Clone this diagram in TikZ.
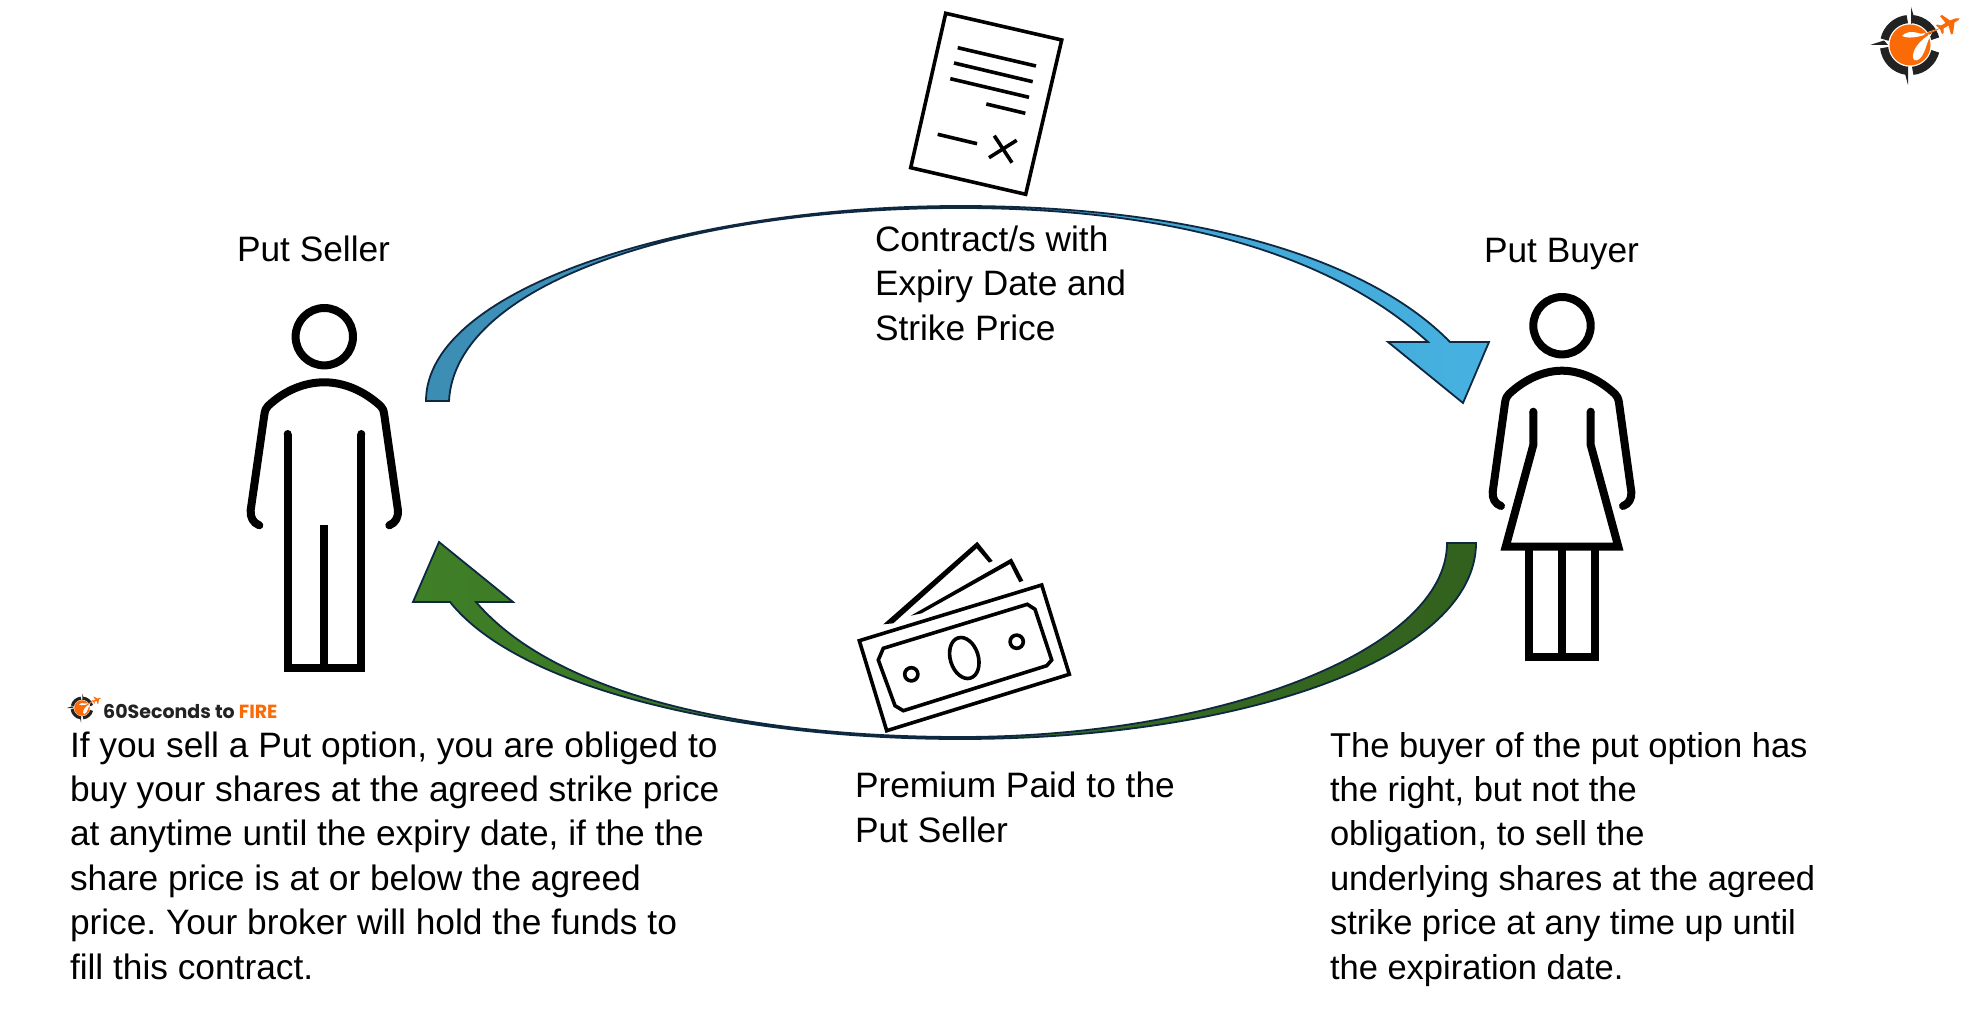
\documentclass[tikz,border=0pt]{standalone}
\usepackage{fontspec}
\setmainfont{Liberation Sans}
\newfontfamily\logofont{Poppins}
\usetikzlibrary{calc}
\frenchspacing
\definecolor{edgeblue}{HTML}{0E2841}
\definecolor{logoorange}{HTML}{FA6A06}
\definecolor{logodark}{HTML}{222222}
\definecolor{bluea}{HTML}{3C8DB4}
\definecolor{blueb}{HTML}{46B1E1}
\definecolor{greena}{HTML}{3F7F27}
\definecolor{greenb}{HTML}{32611D}
\tikzset{
  figure/.style={draw=black,line width=8pt,line cap=round,line join=round,fill=none},
  figsharp/.style={draw=black,line width=8pt,line cap=butt,line join=miter,miter limit=10,fill=none},
  thin ink/.style={draw=black,line width=3.6pt,line cap=butt,line join=miter},
  bigarrow/.style={draw=edgeblue,line width=1.8pt,line join=miter},
  txt/.style={inner sep=0pt,outer sep=0pt,anchor=base west,align=left,font=\fontsize{35.3}{44.4}\selectfont,text=black},
  txtr/.style={inner sep=0pt,outer sep=0pt,anchor=base west,align=left,font=\fontsize{34.5}{44.4}\selectfont,text=black},
  lbl/.style={inner sep=0pt,outer sep=0pt,anchor=base west,font=\fontsize{35.3}{44.4}\selectfont,text=black}
}
\newcommand{\logomark}[3]{%
\begin{scope}[shift={(#1,#2)},scale=#3]
  \foreach \a/\b in {96/168,14/84,186/262,276/346}{
    \draw[logodark,line width=8.2pt*#3] (\a:26pt) arc[start angle=\a,end angle=\b,radius=26pt];
  }
  \fill[logodark] (-40,0) -- (-26,-4.5) -- (-22,0) -- cycle;
  \fill[logodark] (1,-38) -- (5,-25) -- (1,-21) -- cycle;
  \fill[logodark] (-2,40) -- (-6,25) -- (-2,21) -- cycle;
  \fill[logoorange] (0,0) circle[radius=20.5pt];
  \fill[white] (30,-17) .. controls (16,-9) and (0,-5) .. (-8,-9) .. controls (-5,-13) and (2,-14) .. (8,-12) .. controls (10,-11) and (13,-11) .. (15,-12) -- cycle;
  \fill[white] (22,-12) .. controls (8,-4) and (2,6) .. (3,13) .. controls (4,17) and (9,16) .. (12,11) .. controls (16,5) and (16,-2) .. (22,-12) -- cycle;
  \fill[logoorange] (49.5,-26.5) -- (45,-26.5) -- (40,-24.5) -- (32,-30) -- (30,-29) -- (35.5,-22) -- (31,-19.5) -- (27,-20.5) -- (26,-19.5) -- (30,-16) -- (32,-11) -- (33.5,-12) -- (33.5,-16.5) -- (38.5,-19.5) -- (41,-10.5) -- (43,-11.5) -- (44.5,-22.5) -- (48.5,-25) -- cycle;
  \fill[logoorange] (33,-18) -- (15,-11.5) -- (13,-8) -- cycle;
\end{scope}}
\begin{document}
\begin{tikzpicture}[x=1pt,y=-1pt]
\useasboundingbox (0,0) rectangle (1962,1016);
\fill[white] (0,0) rectangle (1962,1016);

% blue arrow
\draw[bigarrow,left color=bluea,right color=blueb]
  (426,401) .. controls (426,287) and (690,206) .. (960,206)
  .. controls (1200,206) and (1370,260) .. (1450,342)
  -- (1489,342) -- (1463,403) -- (1388,342) -- (1428,342)
  .. controls (1340,262) and (1190,208) .. (960,208)
  .. controls (680,208) and (455,285) .. (449,401)
  -- cycle;

% green arrow
\draw[bigarrow,left color=greena,right color=greenb]
  (1447,543) .. controls (1447,650) and (1220,737) .. (960,737)
  .. controls (760,737) and (560,700) .. (476,602)
  -- (513,602) -- (439,542) -- (413,602) -- (450,602)
  .. controls (520,690) and (740,739) .. (960,739)
  .. controls (1245,739) and (1476,657) .. (1476,543)
  -- cycle;

% person left
\draw[figure] (324.3,336.7) circle[radius=28.7pt];
\draw[figure] (259.3,525.3) .. controls (253,523) and (250,517) .. (250.7,510) -- (264.3,415) .. controls (265,410) and (266,408) .. (268,406) .. controls (285,390) and (305,382.3) .. (324.3,382.3) .. controls (343,382.3) and (363,390) .. (380.6,406) .. controls (382.6,408) and (383.6,410) .. (384.3,415) -- (397.9,510) .. controls (398.6,517) and (395.6,523) .. (389.3,525.3);
\draw[figsharp] (287.7,434) -- (287.7,668) -- (361.3,668) -- (361.3,434);
\fill (287.7,434) circle[radius=4pt] (361.3,434) circle[radius=4pt];
\draw[figsharp] (324.3,525) -- (324.3,668);

% person right
\draw[figure] (1562,325.7) circle[radius=28.7pt];
\draw[figure] (1501,506) .. controls (1495,504) and (1492,498) .. (1492.7,491.7) -- (1505,403) .. controls (1505.7,398) and (1507,396) .. (1509,394) .. controls (1525,379) and (1544,370.7) .. (1562,370.7) .. controls (1580,370.7) and (1599,379) .. (1615,394) .. controls (1617,396) and (1618.3,398) .. (1619,403) -- (1631.3,491.7) .. controls (1632,498) and (1629,504) .. (1623,506);
\draw[figsharp] (1533.3,411.7) -- (1533.3,445) -- (1505.7,546.7) -- (1618.3,546.7) -- (1590.7,445) -- (1590.7,411.7);
\fill (1533.3,411.7) circle[radius=4pt] (1590.7,411.7) circle[radius=4pt];
\draw[figsharp] (1529.3,546.7) -- (1529.3,656.7) -- (1594.7,656.7) -- (1594.7,546.7);
\draw[figsharp] (1562,546.7) -- (1562,656.7);

% contract
\draw[thin ink] (945.7,13.3) -- (1061.7,40) -- (1025.7,194.3) -- (910.7,167.7) -- cycle;
\draw[thin ink] (957.7,47.7) -- (1036,66);
\draw[thin ink] (954,63) -- (1032.7,81.7);
\draw[thin ink] (950.3,78.7) -- (1029,97.3);
\draw[thin ink] (986.3,104) -- (1025.3,113.3);
\draw[thin ink] (937.7,134.3) -- (977,143.7);
\draw[thin ink] (994.3,135.7) -- (1012,162.7);
\draw[thin ink] (989,157.7) -- (1016.7,140.3);

% money
\fill (883.3,624.3) -- (977.3,541.7) -- (992.7,561) -- (989,562.7) -- (976.7,548.3) -- (893.3,623.3) -- cycle;
\fill (910.7,615.7) -- (1011.7,558.3) -- (1023.3,580.7) -- (1019.3,582.3) -- (1010,564) -- (921.7,613.3) -- cycle;
\draw[thin ink] (859.3,640.7) -- (1041.7,585) -- (1069.3,674.3) -- (886.7,730.7) -- cycle;
\draw[thin ink] (883.3,648.3) -- (1027.3,604.3) -- (1035,609.3) -- (1051.7,660) -- (1046.7,665.7) -- (903.3,710.7) -- (895,705.7) -- (878.3,660) -- cycle;
\draw[thin ink] (964.3,658) circle[x radius=14pt,y radius=21pt,rotate=17];
\draw[thin ink] (911.3,674.3) circle[radius=6.6pt];
\draw[thin ink] (1016.7,641.7) circle[radius=6.6pt];

% logos
\logomark{1910}{45}{1}
\logomark{82}{708}{0.38}
\node[inner sep=0pt,anchor=base west,font=\logofont\bfseries\fontsize{19}{20}\selectfont,text=logodark] (brand) at (103,718) {60Seconds to \textcolor{logoorange}{FIRE}};

% texts
\node[lbl] (seller) at (237,262) {Put Seller};
\node[lbl] (buyer) at (1484,263) {Put Buyer};
\node[txt] (contract) at (875,340) {Contract/s with\\Expiry Date and\\Strike Price};
\node[txt] (premium) at (855,842) {Premium Paid to the\\Put Seller};
\node[txt] (lefttext) at (70,979) {If you sell a Put option, you are obliged to\\buy your shares at the agreed strike price\\at anytime until the expiry date, if the the\\share price is at or below the agreed\\price. Your broker will hold the funds to\\fill this contract.};
\node[txtr] (righttext) at (1330,979) {The buyer of the put option has\\the right, but not the\\obligation, to sell the\\underlying shares at the agreed\\strike price at any time up until\\the expiration date.};
\end{tikzpicture}
\end{document}
